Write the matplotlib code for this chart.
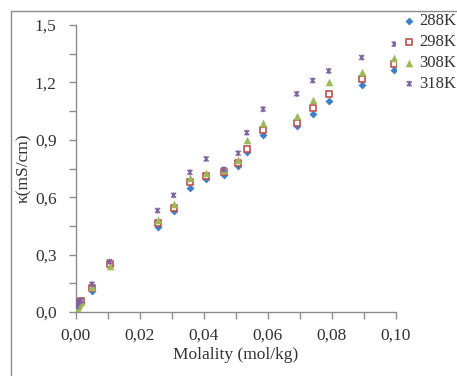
import matplotlib
matplotlib.use("Agg")
import matplotlib.pyplot as plt
from matplotlib.path import Path
from matplotlib.patches import Rectangle
from matplotlib.ticker import MultipleLocator

# dane
molality = [0.0002, 0.0006, 0.0010, 0.0015, 0.0050, 0.0105, 0.0255, 0.0305, 0.0356,
            0.0407, 0.0462, 0.0507, 0.0534, 0.0585, 0.0690, 0.0740, 0.0790, 0.0893, 0.0995]
k288 = [0.020, 0.030, 0.040, 0.050, 0.110, 0.245, 0.443, 0.528, 0.647,
        0.694, 0.715, 0.765, 0.838, 0.925, 0.972, 1.035, 1.105, 1.187, 1.265]
k298 = [0.025, 0.035, 0.045, 0.055, 0.125, 0.250, 0.467, 0.545, 0.680,
        0.712, 0.730, 0.780, 0.852, 0.950, 0.986, 1.065, 1.140, 1.216, 1.296]
k308 = [0.020, 0.030, 0.040, 0.050, 0.130, 0.242, 0.480, 0.563, 0.700,
        0.725, 0.742, 0.795, 0.900, 0.990, 1.025, 1.108, 1.200, 1.256, 1.330]
k318 = [0.030, 0.045, 0.055, 0.060, 0.145, 0.263, 0.530, 0.610, 0.730,
        0.800, 0.745, 0.830, 0.937, 1.060, 1.140, 1.210, 1.260, 1.330, 1.400]
labels = ["288K", "298K", "308K", "318K"]

xticks = [0.0, 0.02, 0.04, 0.06, 0.08, 0.10]
xticklabels = ["0,00", "0,02", "0,04", "0,06", "0,08", "0,10"]
yticks = [0.0, 0.3, 0.6, 0.9, 1.2, 1.5]
yticklabels = ["0,0", "0,3", "0,6", "0,9", "1,2", "1,5"]

plt.rcParams["font.family"] = ["Liberation Serif", "DejaVu Serif"]

# marker "x" z pionowa kreska, jak w Excelu
star = Path([(-1, -1), (1, 1), (-1, 1), (1, -1), (0, -1.2), (0, 1.2)],
            [Path.MOVETO, Path.LINETO, Path.MOVETO, Path.LINETO, Path.MOVETO, Path.LINETO])

fig = plt.figure(figsize=(4.57, 3.76), dpi=100)
ax = fig.add_axes([0.1663, 0.1702, 0.70, 0.7633])

ax.scatter(molality, k288, marker="D", s=16, color="#3d7fc8", linewidths=0, label=labels[0], zorder=3)
ax.scatter(molality, k298, marker="s", s=18, facecolor="white", edgecolor="#c0504d", linewidths=1.2,
           label=labels[1], zorder=4)
ax.scatter(molality, k308, marker="^", s=30, color="#9bbb59", linewidths=0, label=labels[2], zorder=5)
ax.scatter(molality, k318, marker=star, s=18, facecolor="none", edgecolor="#8064a2", linewidths=1.1,
           label=labels[3], zorder=6)

ax.set_xlim(0, 0.10)
ax.set_ylim(0, 1.5)
ax.set_xticks(xticks)
ax.set_xticklabels(xticklabels)
ax.set_yticks(yticks)
ax.set_yticklabels(yticklabels)
ax.xaxis.set_minor_locator(MultipleLocator(0.01))
ax.yaxis.set_minor_locator(MultipleLocator(0.15))

for s in ["top", "right"]:
    ax.spines[s].set_visible(False)
for s in ["left", "bottom"]:
    ax.spines[s].set_color("#8c8c8c")
    ax.spines[s].set_linewidth(1.0)

ax.tick_params(axis="both", which="both", direction="out", length=5, width=1.0,
               color="#8c8c8c", labelsize=12.5, labelcolor="#333333")
ax.tick_params(axis="y", pad=9)
ax.tick_params(axis="x", pad=6)

ax.set_xlabel("Molality (mol/kg)", fontsize=12.5, color="#333333", labelpad=3)
ax.set_ylabel("κ(mS/cm)", fontsize=12.5, color="#333333", labelpad=2)

fig.legend(loc="upper left", bbox_to_anchor=(0.870, 0.983), frameon=False, fontsize=12,
           handlelength=0.6, handletextpad=0.3, labelspacing=0.3, borderaxespad=0,
           labelcolor="#333333")

# ramka obszaru wykresu
fig.patches.append(Rectangle((11 / 457, -0.1), 1.2, (376 - 11) / 376 + 0.1,
                             transform=fig.transFigure, fill=False, edgecolor="#8c8c8c",
                             linewidth=1.0, clip_on=False))

fig.savefig("out.png", dpi=100)
